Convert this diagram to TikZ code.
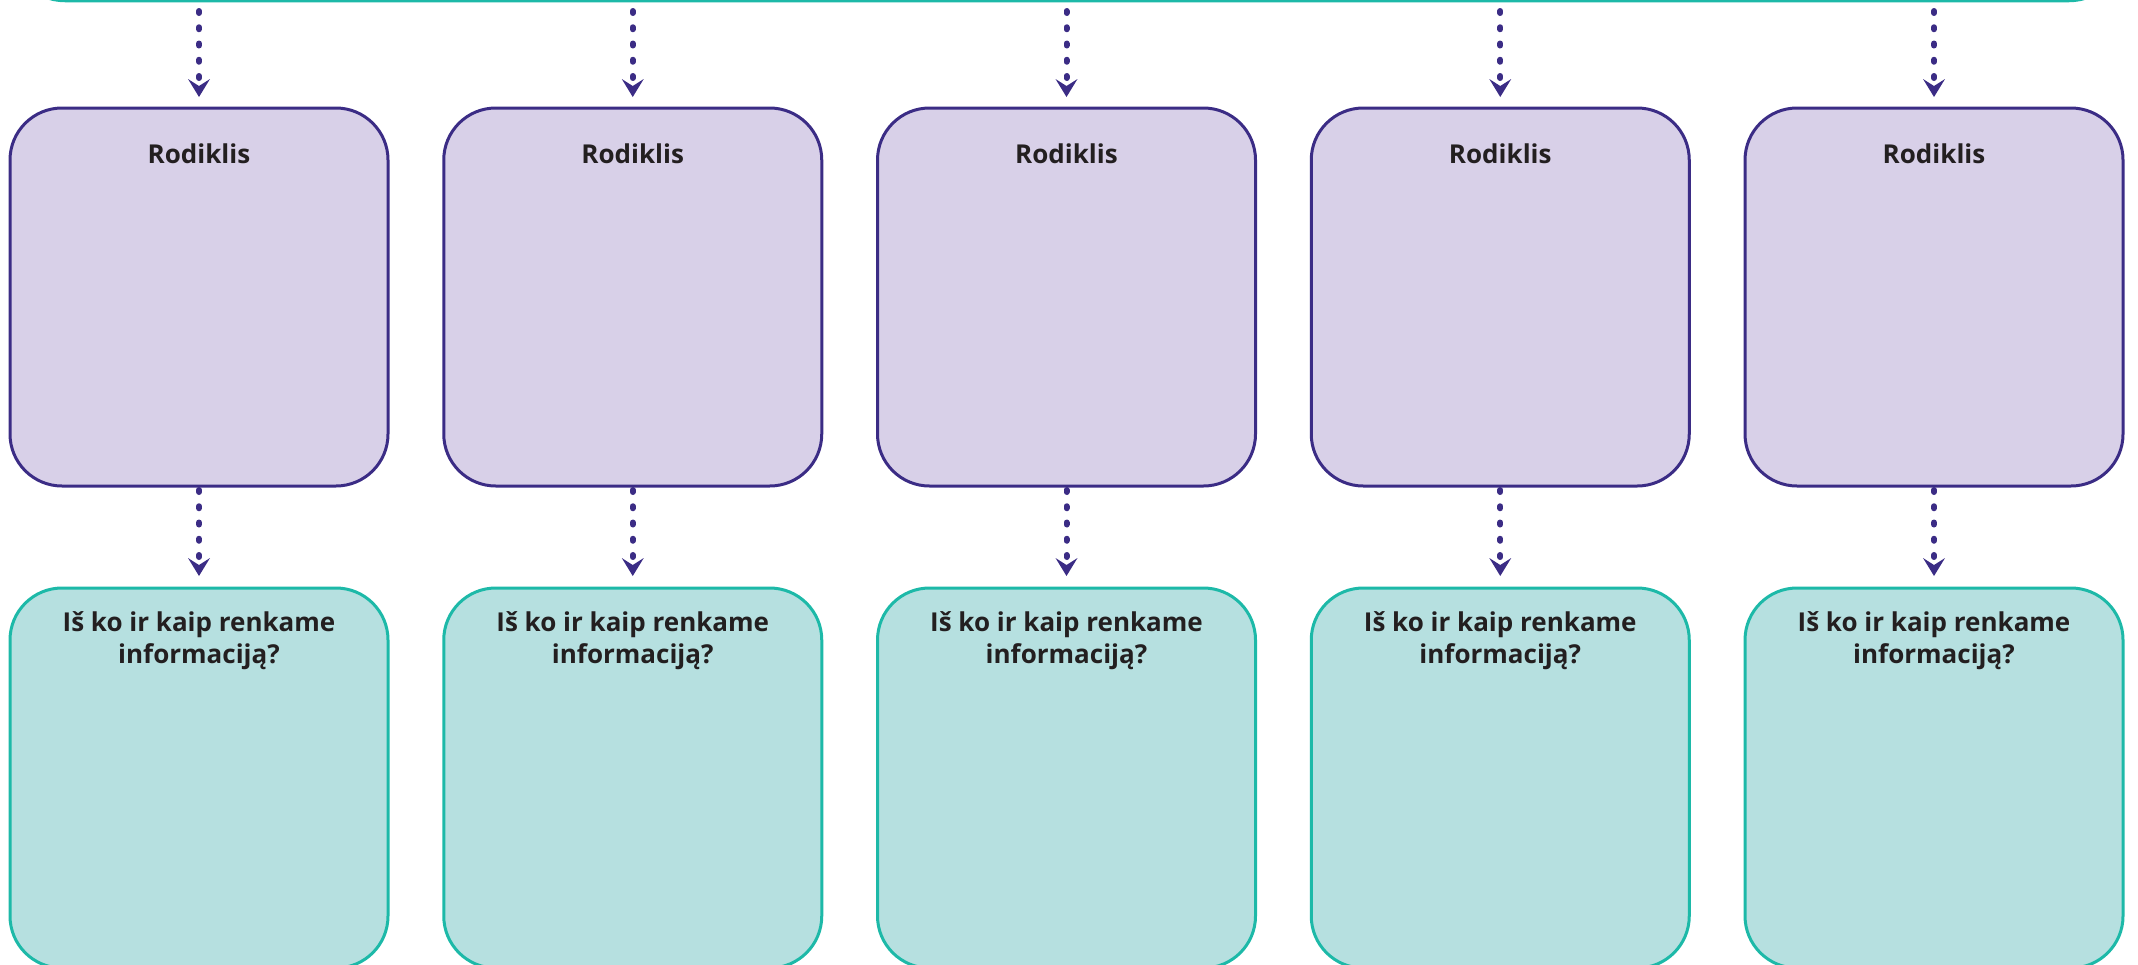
\documentclass[tikz,border=0pt]{standalone}
\usepackage{fontspec}
\setmainfont{Open Sans}
\usetikzlibrary{arrows.meta}
\definecolor{pfill}{HTML}{D8D0E8}
\definecolor{pline}{HTML}{3B2C85}
\definecolor{tfill}{HTML}{B6E0E0}
\definecolor{tline}{HTML}{1DB9A8}
\definecolor{txt}{HTML}{231F20}
\tikzset{
  pbox/.style={draw=pline, fill=pfill, line width=3pt, rounded corners=52pt,
    minimum width=378pt, minimum height=378pt, outer sep=0pt, inner sep=0pt},
  tbox/.style={draw=tline, fill=tfill, line width=3pt, rounded corners=52pt,
    minimum width=378pt, minimum height=380pt, outer sep=0pt, inner sep=0pt},
  topbar/.style={draw=tline, fill=tfill, line width=3.5pt, rounded corners=55pt,
    minimum width=2114pt, minimum height=300pt, outer sep=0pt, inner sep=0pt},
  lbl/.style={text=txt, font=\fontsize{26}{32}\selectfont\bfseries, inner sep=0pt, align=center},
  dotline/.style={draw=pline, line width=6pt, line cap=round, dash pattern=on 2pt off 14.25pt,
    -{Stealth[length=18pt,width=22pt,inset=7pt,line width=0pt]}},
}
\begin{document}
\begin{tikzpicture}[x=1pt,y=-1pt]
\useasboundingbox (0,0) rectangle (2138,964);
\node[topbar, anchor=south] (bar) at (1067,0.5) {};
\foreach \i in {1,...,5}{
  \pgfmathsetmacro{\xc}{199+433.75*(\i-1)}
  \node[pbox] (p\i) at (\xc,297) {};
  \node[lbl, anchor=base] (r\i) at (\xc,163) {Rodiklis};
  \node[tbox] (t\i) at (\xc,778) {};
  \node[lbl, anchor=base] (q\i) at (\xc,663) {Iš ko ir kaip renkame\\informaciją?};
  \draw[dotline, shorten <=10.5pt, shorten >=11pt] (bar.south -| p\i.north) -- (p\i.north);
  \draw[dotline, shorten <=4pt, shorten >=12pt] (p\i.south) -- (t\i.north);
}
\end{tikzpicture}
\end{document}
